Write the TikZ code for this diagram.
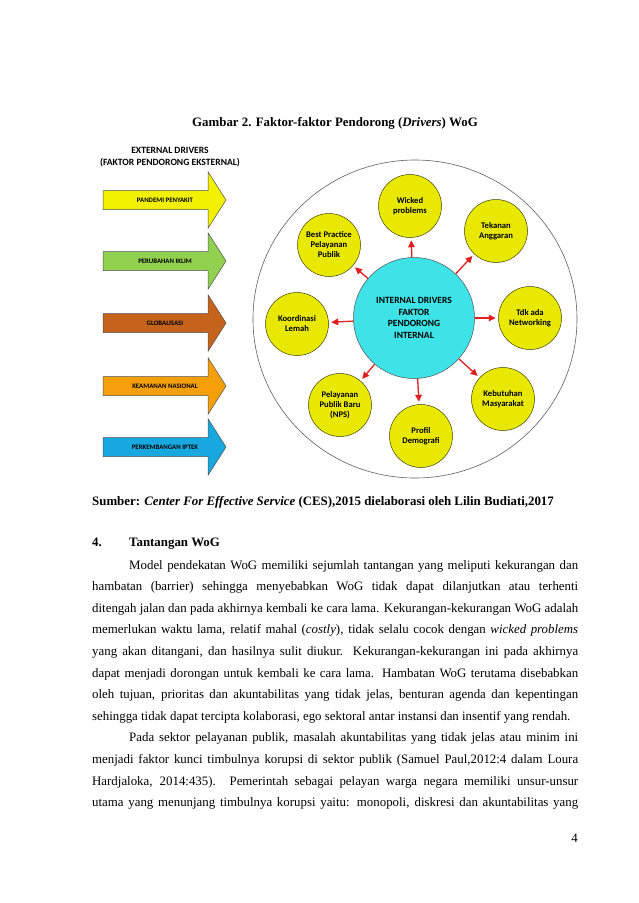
\documentclass[tikz,border=0pt]{standalone}
\usepackage{fontspec}
\setmainfont{Liberation Serif}
\newfontfamily\diagfont{Carlito}
\usepackage{tikz}
\usetikzlibrary{arrows.meta,shapes.arrows}
\definecolor{WGYellow}{HTML}{F0F000}
\definecolor{WGGreen}{HTML}{92D050}
\definecolor{WGBrown}{HTML}{C5631A}
\definecolor{WGOrange}{HTML}{F5A00A}
\definecolor{WGBlue}{HTML}{18A8E0}
\definecolor{WGEdge}{HTML}{505050}
\definecolor{WGDot}{HTML}{E8E800}
\definecolor{WGDotEdge}{HTML}{404000}
\definecolor{WGCyan}{HTML}{3DE3E6}
\definecolor{WGRed}{HTML}{E02020}
\definecolor{WGRing}{HTML}{606060}

\begin{document}
\begin{tikzpicture}[x=1pt,y=-1pt,
  ext/.style={single arrow,draw=WGEdge,line width=0.5pt,minimum height=123pt,single arrow head extend=18.5pt,single arrow tip angle=115,inner ysep=6.5pt,inner xsep=2pt,text height=5pt,text depth=0.5pt,label={[font=\diagfont\bfseries\fontsize{6.8}{8}\selectfont,inner sep=0pt,xshift=3.5pt]center:#1}},
  drv/.style={circle,draw=WGDotEdge,line width=0.5pt,fill=WGDot,minimum size=63pt,inner sep=0pt,align=center,font=\diagfont\bfseries\fontsize{8.6}{10}\selectfont},
  core/.style={circle,draw=WGEdge,line width=0.5pt,fill=WGCyan,minimum size=121pt,inner sep=0pt,align=center,font=\diagfont\bfseries\fontsize{9.5}{11.6}\selectfont},
  push/.style={-{Triangle[length=7pt,width=6.5pt]},draw=WGRed,line width=1.3pt,shorten >=2.5pt},
  txt/.style={anchor=base west,inner sep=0pt,font=\fontsize{12.87}{15}\selectfont},
  head/.style={anchor=base west,inner sep=0pt,font=\bfseries\fontsize{12.87}{15}\selectfont}
]
\useasboundingbox[fill=white] (0,0) rectangle (638,903);
\node[anchor=base,inner sep=0pt,font=\bfseries\fontsize{12.87}{15}\selectfont] (title) at (335,126) {Gambar 2. Faktor-faktor Pendorong (\textit{Drivers}) WoG};
\node[align=center,inner sep=0pt,font=\diagfont\bfseries\fontsize{9.6}{11.2}\selectfont] (extdrv) at (170,157) {EXTERNAL DRIVERS\\(FAKTOR PENDORONG EKSTERNAL)};
\node[ext=PANDEMI PENYAKIT,fill=WGYellow] (pandemi) at (161.5,200) {};
\node[ext=PERUBAHAN IKLIM,fill=WGGreen] (iklim) at (161.5,261) {};
\node[ext=GLOBALISASI,fill=WGBrown] (global) at (161.5,323) {};
\node[ext=KEAMANAN NASIONAL,fill=WGOrange] (aman) at (161.5,386) {};
\node[ext=PERKEMBANGAN IPTEK,fill=WGBlue] (iptek) at (161.5,447) {};
\draw[WGRing,line width=0.6pt] (415,319) ellipse [x radius=162pt,y radius=159pt];
\node[core] (core) at (414,318) {INTERNAL DRIVERS\\FAKTOR\\PENDORONG\\INTERNAL};
\node[drv] (wicked) at (410,206) {Wicked\\problems};
\node[drv] (best) at (329,245) {Best Practice\\Pelayanan\\Publik};
\node[drv] (tekanan) at (496,231) {Tekanan\\Anggaran};
\node[drv] (koord) at (297,324) {Koordinasi\\Lemah};
\node[drv] (network) at (530,318) {Tdk ada\\Networking};
\node[drv] (nps) at (340,405) {Pelayanan\\Publik Baru\\(NPS)};
\node[drv] (profil) at (421,436) {Profil\\Demografi};
\node[drv] (kebutuhan) at (503,399) {Kebutuhan\\Masyarakat};
\draw[push] (core) -- (wicked);
\draw[push] (core) -- (best);
\draw[push] (core) -- (tekanan);
\draw[push] (core) -- (koord);
\draw[push] (core) -- (network);
\draw[push] (core) -- (nps);
\draw[push] (core) -- (profil);
\draw[push] (core) -- (kebutuhan);
\node[head] (sumber) at (92,505) {Sumber: \textit{Center For Effective Service} (CES),2015 dielaborasi oleh Lilin Budiati,2017};
\node[head] (nomor) at (92,546) {4.};
\node[head] (judul) at (129,546) {Tantangan WoG};
\node[txt] (l1) at (129,569) {\makebox[449pt][s]{Model pendekatan WoG memiliki sejumlah tantangan yang meliputi kekurangan dan}};
\node[txt] (l2) at (92,590.6) {\makebox[486pt][s]{hambatan (barrier) sehingga menyebabkan WoG tidak dapat dilanjutkan atau terhenti}};
\node[txt] (l3) at (92,612.2) {\makebox[486pt][s]{ditengah jalan dan pada akhirnya kembali ke cara lama. Kekurangan-kekurangan WoG adalah}};
\node[txt] (l4) at (92,633.8) {\makebox[486pt][s]{memerlukan waktu lama, relatif mahal (\textit{costly}), tidak selalu cocok dengan \textit{wicked problems}}};
\node[txt] (l5) at (92,655.4) {\makebox[486pt][s]{yang akan ditangani, dan hasilnya sulit diukur. Kekurangan-kekurangan ini pada akhirnya}};
\node[txt] (l6) at (92,677) {\makebox[486pt][s]{dapat menjadi dorongan untuk kembali ke cara lama. Hambatan WoG terutama disebabkan}};
\node[txt] (l7) at (92,698.6) {\makebox[486pt][s]{oleh tujuan, prioritas dan akuntabilitas yang tidak jelas, benturan agenda dan kepentingan}};
\node[txt] (l8) at (92,720.2) {sehingga tidak dapat tercipta kolaborasi, ego sektoral antar instansi dan insentif yang rendah.};
\node[txt] (l9) at (129,741.8) {\makebox[449pt][s]{Pada sektor pelayanan publik, masalah akuntabilitas yang tidak jelas atau minim ini}};
\node[txt] (l10) at (92,763.4) {\makebox[486pt][s]{menjadi faktor kunci timbulnya korupsi di sektor publik (Samuel Paul,2012:4 dalam Loura}};
\node[txt] (l11) at (92,785) {\makebox[486pt][s]{Hardjaloka, 2014:435). Pemerintah sebagai pelayan warga negara memiliki unsur-unsur}};
\node[txt] (l12) at (92,806.6) {\makebox[486pt][s]{utama yang menunjang timbulnya korupsi yaitu: monopoli, diskresi dan akuntabilitas yang}};
\node[anchor=base east,inner sep=0pt,font=\fontsize{12.87}{15}\selectfont] (hal) at (578,842) {4};
\end{tikzpicture}
\end{document}
